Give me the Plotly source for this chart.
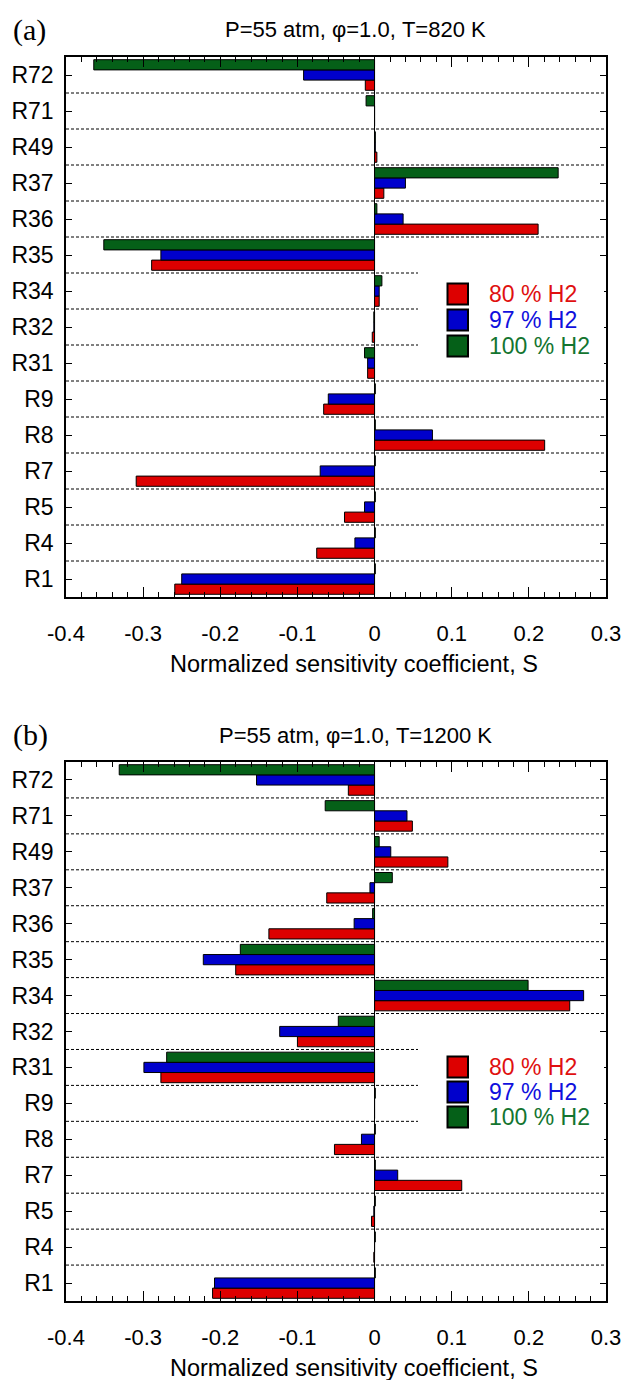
import plotly.graph_objects as go

# ---------------- data ----------------
reactions = ["R72", "R71", "R49", "R37", "R36", "R35", "R34", "R32", "R31", "R9", "R8", "R7", "R5", "R4", "R1"]
series_names = ["80 % H2", "97 % H2", "100 % H2"]

# Panel (a): P=55 atm, phi=1.0, T=820 K
a_h2_80 = [-0.012, 0.0, 0.003, 0.012, 0.212, -0.289, 0.006, -0.003, -0.009, -0.066, 0.2205, -0.309, -0.039, -0.075, -0.259]
a_h2_97 = [-0.092, 0.0, 0.001, 0.040, 0.037, -0.277, 0.006, -0.001, -0.009, -0.060, 0.075, -0.0705, -0.013, -0.0255, -0.250]
a_h2_100 = [-0.364, -0.011, 0.001, 0.238, 0.003, -0.351, 0.0095, -0.001, -0.013, 0.001, 0.001, 0.001, 0.001, 0.001, 0.001]

# Panel (b): P=55 atm, phi=1.0, T=1200 K
b_h2_80 = [-0.034, 0.049, 0.095, -0.062, -0.137, -0.180, 0.253, -0.100, -0.277, 0.0, -0.052, 0.113, -0.004, -0.001, -0.210]
b_h2_97 = [-0.153, 0.042, 0.021, -0.006, -0.0265, -0.222, 0.271, -0.123, -0.299, 0.0, -0.017, 0.030, -0.001, 0.0, -0.2075]
b_h2_100 = [-0.331, -0.064, 0.006, 0.023, -0.0025, -0.174, 0.199, -0.047, -0.2695, 0.001, 0.001, 0.001, 0.001, 0.001, 0.001]

x_tickvals = [-0.4, -0.3, -0.2, -0.1, 0.0, 0.1, 0.2, 0.3]
x_ticktext = ["-0.4", "-0.3", "-0.2", "-0.1", "0", "0.1", "0.2", "0.3"]

panel_titles = ["P=55 atm, \u03c6=1.0, T=820 K", "P=55 atm, \u03c6=1.0, T=1200 K"]
panel_labels = ["(a)", "(b)"]
x_title = "Normalized sensitivity coefficient, S"

# ---------------- style ----------------
W, H = 623, 1380
bar_colors = ["#dd0000", "#0000cc", "#056018"]
text_colors = ["#e01010", "#1010dd", "#137530"]
FONT = "Liberation Sans, Arial, sans-serif"
SERIF = "Liberation Serif, Times New Roman, serif"

def px_x(p):
    return p / W

def px_y(p):
    return 1 - p / H

plot_left, plot_right = 66, 606
panels = [
    dict(top=57, bottom=597, data=[a_h2_80, a_h2_97, a_h2_100], xa="x", ya="y", box=(418, 604, 264, 364),
         leg=[294, 320, 346]),
    dict(top=762, bottom=1301, data=[b_h2_80, b_h2_97, b_h2_100], xa="x2", ya="y2", box=(418, 604, 1040, 1141),
         leg=[1067, 1092, 1117]),
]

cat_order = list(reversed(reactions))  # bottom to top

fig = go.Figure()
shapes = []
annotations = []

for pi, p in enumerate(panels):
    for si in range(3):
        fig.add_trace(go.Bar(
            y=reactions, x=p["data"][si], orientation="h", name=series_names[si],
            marker=dict(color=bar_colors[si], line=dict(color="black", width=1)),
            xaxis=p["xa"], yaxis=p["ya"], showlegend=False,
        ))
    axis_suffix = "" if pi == 0 else "2"
    dom_y = [px_y(p["bottom"]), px_y(p["top"])]
    xaxis = dict(
        domain=[px_x(plot_left), px_x(plot_right)], anchor=p["ya"], range=[-0.4, 0.3], automargin=False,
        tickvals=x_tickvals, ticktext=x_ticktext, ticks="inside", ticklen=10, tickwidth=1,
        tickcolor="black", showline=True, linecolor="black", linewidth=1.5, mirror="allticks",
        showgrid=False, zeroline=True, zerolinecolor="black", zerolinewidth=1.2,
        minor=dict(dtick=0.02, tick0=0, ticks="inside", ticklen=5, tickcolor="black", tickwidth=1, showgrid=False),
        tickfont=dict(family=FONT, size=22, color="black"), ticklabelstandoff=16,
    )
    yaxis = dict(
        domain=dom_y, anchor=p["xa"], type="category", categoryorder="array", categoryarray=cat_order,
        range=[-0.5, len(reactions) - 0.5], automargin=False,
        ticks="inside", ticklen=6, tickwidth=1, tickcolor="black",
        showline=True, linecolor="black", linewidth=1.5, mirror="allticks", showgrid=False,
        tickfont=dict(family=FONT, size=23, color="black"), ticklabelstandoff=6,
    )
    fig.layout["xaxis" + axis_suffix] = xaxis
    fig.layout["yaxis" + axis_suffix] = yaxis

    # dotted separators between categories
    for i in range(len(reactions) - 1):
        shapes.append(dict(type="line", xref="paper", yref=p["ya"], x0=px_x(plot_left), x1=px_x(plot_right),
                           y0=i + 0.5, y1=i + 0.5, layer="above",
                           line=dict(color="black", width=1, dash="3px,2px")))
    # legend background box
    bx0, bx1, by0, by1 = p["box"]
    shapes.append(dict(type="rect", xref="paper", yref="paper", x0=px_x(bx0), x1=px_x(bx1),
                       y0=px_y(by1), y1=px_y(by0), fillcolor="white", line=dict(width=0), layer="above"))
    # legend squares + labels
    for si in range(3):
        cy = p["leg"][si]
        shapes.append(dict(type="rect", xref="paper", yref="paper", x0=px_x(447.5), x1=px_x(468),
                           y0=px_y(cy + 10.5), y1=px_y(cy - 10.5), fillcolor=bar_colors[si],
                           line=dict(color="black", width=2), layer="above"))
        annotations.append(dict(xref="paper", yref="paper", x=px_x(487), y=px_y(cy), text=series_names[si],
                                showarrow=False, xanchor="left", yanchor="middle",
                                font=dict(family=FONT, size=23, color=text_colors[si])))
    # title, panel label, x-axis title
    annotations.append(dict(xref="paper", yref="paper", x=px_x(355), y=px_y(p["top"] - 27), text=panel_titles[pi],
                            showarrow=False, xanchor="center", yanchor="middle",
                            font=dict(family=FONT, size=22, color="black")))
    annotations.append(dict(xref="paper", yref="paper", x=px_x(11), y=px_y(p["top"] - 27), text=panel_labels[pi],
                            showarrow=False, xanchor="left", yanchor="middle",
                            font=dict(family=SERIF, size=30, color="black")))
    annotations.append(dict(xref="paper", yref="paper", x=px_x(354), y=px_y(p["bottom"] + 67), text=x_title,
                            showarrow=False, xanchor="center", yanchor="middle",
                            font=dict(family=FONT, size=23.5, color="black")))

fig.update_layout(
    width=W, height=H, margin=dict(l=0, r=0, t=0, b=0),
    paper_bgcolor="white", plot_bgcolor="white",
    barmode="group", bargap=0.15, bargroupgap=0.0,
    shapes=shapes, annotations=annotations, showlegend=False,
    font=dict(family=FONT, color="black"),
)

fig.write_html("out.html")
